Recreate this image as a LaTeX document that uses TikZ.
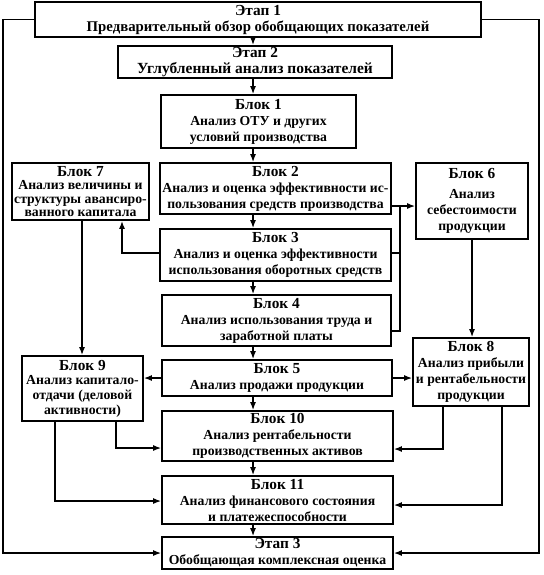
\documentclass[tikz,border=0pt]{standalone}
\usepackage{fontspec}
\setmainfont{Liberation Serif}
\usetikzlibrary{arrows.meta}

\newcommand{\hdr}[1]{{\fontsize{11.5}{13}\selectfont #1}}

\tikzset{
  blk/.style={draw, line width=1.3pt, align=center, inner sep=1pt,
    font=\bfseries\fontsize{10.3}{12}\selectfont},
  sz/.style 2 args={minimum width=#1*0.75pt, minimum height=#2*0.75pt},
  arr/.style={line width=1pt, -{Latex[length=6pt,width=4.5pt]}},
  ln/.style={line width=1pt}
}

\begin{document}
\begin{tikzpicture}[x=0.75pt, y=-0.75pt]
    \useasboundingbox (0,0) rectangle (543,575);

    % Этапы и блоки
    \node[blk, sz={446}{35}, font=\bfseries\fontsize{11.1}{12}\selectfont] (e1) at (258,19.5) {\hdr{Этап 1}\\Предварительный обзор обобщающих показателей};
    \node[blk, sz={274}{30}, font=\bfseries\fontsize{11.6}{12}\selectfont] (e2) at (255,62) {\hdr{Этап 2}\\Углубленный анализ показателей};
    \node[blk, sz={195}{53}] (b1) at (258.5,121.5) {\hdr{Блок 1}\\Анализ ОТУ и других\\условий производства};
    \node[blk, sz={137}{57}, font=\bfseries\fontsize{10.3}{10}\selectfont] (b7) at (80.5,191.5) {\hdr{Блок 7}\\Анализ величины и\\структуры авансиро-\\ванного капитала};
    \node[blk, sz={231}{51}] (b2) at (275.5,188.5) {\hdr{Блок 2}\\Анализ и оценка эффективности ис-\\пользования средств производства};
    \node[blk, sz={112}{76}] (b6) at (472,201) {\hdr{Блок 6}\\[3pt]Анализ\\себестоимости\\продукции};
    \node[blk, sz={231}{52}] (b3) at (275.5,255) {\hdr{Блок 3}\\Анализ и оценка эффективности\\использования оборотных средств};
    \node[blk, sz={229}{51}] (b4) at (276.5,320.5) {\hdr{Блок 4}\\Анализ использования труда и\\заработной платы};
    \node[blk, sz={121}{65}, font=\bfseries\fontsize{10.3}{11}\selectfont] (b9) at (82.5,388.5) {\hdr{Блок 9}\\Анализ капитало-\\отдачи (деловой\\активности)};
    \node[blk, sz={230}{36}] (b5) at (277,378) {\hdr{Блок 5}\\Анализ продажи продукции};
    \node[blk, sz={116}{68}] (b8) at (471,372) {\hdr{Блок 8}\\Анализ прибыли\\и рентабельности\\продукции};
    \node[blk, sz={231}{50}] (b10) at (277.5,436) {\hdr{Блок 10}\\Анализ рентабельности\\производственных активов};
    \node[blk, sz={231}{48}] (b11) at (277.5,500) {\hdr{Блок 11}\\Анализ финансового состояния\\и платежеспособности};
    \node[blk, sz={231}{32}] (e3) at (277.5,553) {\hdr{Этап 3}\\Обобщающая комплексная оценка};

    % Точки для линий
    \coordinate (col) at (253,0);
    \coordinate (L) at (3,0);
    \coordinate (R) at (539,0);
    \coordinate (j2) at (400,206);
    \coordinate (j3) at (400,253);
    \coordinate (j4) at (400,331);
    \coordinate (j7) at (122,253);
    \coordinate (c7) at (82,0);
    \coordinate (k10) at (116,448);
    \coordinate (k11) at (55,501);
    \coordinate (m10) at (443,449);
    \coordinate (m11) at (502,505);

    % Основная вертикаль
    \draw[arr] (e1.south -| col) -- (e2.north -| col);
    \draw[arr] (e2.south -| col) -- (b1.north -| col);
    \draw[arr] (b1.south -| col) -- (b2.north -| col);
    \draw[arr] (b2.south -| col) -- (b3.north -| col);
    \draw[arr] (b3.south -| col) -- (b4.north -| col);
    \draw[arr] (b4.south -| col) -- (b5.north -| col);
    \draw[arr] (b5.south -| col) -- (b10.north -| col);
    \draw[arr] (b10.south -| col) -- (b11.north -| col);
    \draw[arr] (b11.south -| col) -- (e3.north -| col);

    % Внешние линии
    \draw[arr] (e1.west) -- (e1.west -| L) -- (e3.west -| L) -- (e3.west);
    \draw[arr] (e1.east) -- (e1.east -| R) -- (e3.east -| R) -- (e3.east);

    % Связи справа
    \draw[arr] (b2.east |- j2) -- (b6.west |- j2);
    \draw[ln] (b3.east |- j3) -- (j3);
    \draw[ln] (b4.east |- j4) -- (j4) -- (j2);
    \draw[arr] (b6.south) -- (b6.south |- b8.north);
    \draw[arr] (b5.east) -- (b5.east -| b8.west);
    \draw[arr] (b8.south -| m10) -- (m10) -- (b10.east |- m10);
    \draw[arr] (b8.south -| m11) -- (m11) -- (b11.east |- m11);

    % Связи слева
    \draw[arr] (b3.west |- j7) -- (j7) -- (b7.south -| j7);
    \draw[arr] (b7.south -| c7) -- (b9.north -| c7);
    \draw[arr] (b5.west) -- (b5.west -| b9.east);
    \draw[arr] (b9.south -| k10) -- (k10) -- (b10.west |- k10);
    \draw[arr] (b9.south -| k11) -- (k11) -- (b11.west |- k11);
\end{tikzpicture}
\end{document}
